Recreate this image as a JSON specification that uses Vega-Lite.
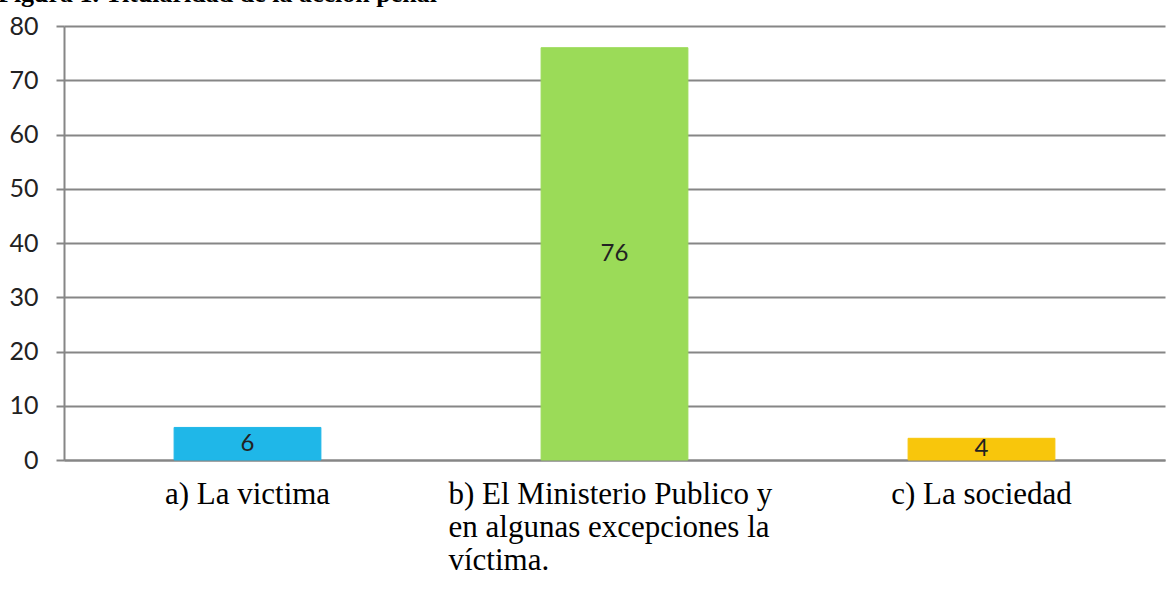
{
  "$schema": "https://vega.github.io/schema/vega-lite/v6.json",
  "width": 1101,
  "height": 434,
  "autosize": "none",
  "padding": {"left": 64, "top": 26, "right": 2, "bottom": 129},
  "background": "white",
  "title": {
    "text": "Figura 1. Titularidad de la acción penal",
    "anchor": "start",
    "frame": "group",
    "font": "Liberation Serif",
    "fontSize": 26,
    "fontWeight": "bold",
    "color": "black",
    "baseline": "alphabetic",
    "offset": -14,
    "dx": -66
  },
  "data": {
    "values": [
      {"label": "a) La victima", "value": 6, "color": "#1FB7E8"},
      {"label": "b) El Ministerio Publico y|en algunas excepciones la|víctima.", "value": 76, "color": "#9BDB58"},
      {"label": "c) La sociedad", "value": 4, "color": "#F8C60C"}
    ]
  },
  "encoding": {
    "x": {
      "field": "label",
      "type": "nominal",
      "sort": null,
      "scale": {"paddingInner": 0.6, "paddingOuter": 0.3},
      "axis": {
        "title": null,
        "labelAngle": 0,
        "labelExpr": "split(datum.value, '|')",
        "labelFont": "Liberation Serif",
        "labelFontSize": 31,
        "labelColor": "black",
        "labelLineHeight": 33,
        "labelPadding": 19,
        "labelLimit": 0,
        "labelAlign": {"condition": {"test": "indexof(datum.value, 'Ministerio') >= 0", "value": "left"}, "value": "center"},
        "labelOffset": {"condition": {"test": "indexof(datum.value, 'Ministerio') >= 0", "value": -166}, "value": 0},
        "ticks": false,
        "domainColor": "#868686",
        "domainWidth": 2,
        "grid": false
      }
    }
  },
  "layer": [
    {
      "mark": {"type": "bar", "strokeWidth": 1},
      "encoding": {
        "y": {
          "field": "value",
          "type": "quantitative",
          "scale": {"domain": [0, 80], "nice": false},
          "axis": {
            "title": null,
            "values": [0, 10, 20, 30, 40, 50, 60, 70, 80],
            "labelFont": "Lato",
            "labelFontSize": 25,
            "labelColor": "#222222",
            "labelPadding": 18,
            "tickSize": 8,
            "tickColor": "#868686",
            "tickWidth": 2,
            "domainColor": "#868686",
            "domainWidth": 2,
            "gridColor": "#868686",
            "gridWidth": 2
          }
        },
        "fill": {"field": "color", "type": "nominal", "scale": null},
        "stroke": {"field": "color", "type": "nominal", "scale": null}
      }
    },
    {
      "mark": {"type": "text", "font": "Lato", "fontSize": 24, "color": "#222222", "baseline": "middle"},
      "transform": [{"calculate": "datum.value / 2", "as": "mid"}],
      "encoding": {
        "y": {"field": "mid", "type": "quantitative"},
        "text": {"field": "value", "type": "quantitative"}
      }
    }
  ],
  "config": {"view": {"stroke": null}}
}
